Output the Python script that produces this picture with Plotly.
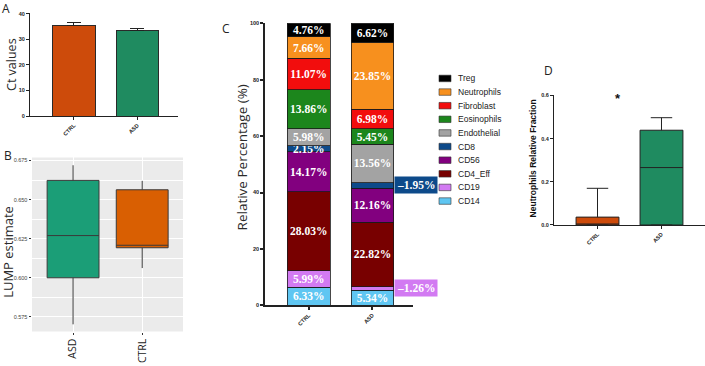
import plotly.graph_objects as go

W, H = 705, 366

# ---------------- data ----------------
a_groups = ["CTRL", "ASD"]
a_ct = [35.5, 33.3]
a_err = [1.0, 1.0]

b_groups = ["ASD", "CTRL"]
b_low = [0.5702, 0.6062]
b_q1 = [0.6000, 0.6192]
b_med = [0.6270, 0.6208]
b_q3 = [0.6623, 0.6563]
b_high = [0.6720, 0.6620]

c_groups = ["CTRL", "ASD"]
cell_types = ["CD14", "CD19", "CD4_Eff", "CD56", "CD8", "Endothelial",
              "Eosinophils", "Fibroblast", "Neutrophils", "Treg"]
c_ctrl = [6.33, 5.99, 28.03, 14.17, 2.15, 5.98, 13.86, 11.07, 7.66, 4.76]
c_asd = [5.34, 1.26, 22.82, 12.16, 1.95, 13.56, 5.45, 6.98, 23.85, 6.62]
cell_colors = ["#5fc6f2", "#d27af2", "#780000", "#82007f", "#0d4a8a",
               "#a3a3a3", "#1c861c", "#f20d0d", "#f7901e", "#000000"]
callout_types = ["CD19", "CD8"]  # ASD labels drawn beside the bar

d_groups = ["CTRL", "ASD"]
d_low = [0.0, 0.0]
d_q1 = [0.0, 0.0]
d_med = [0.0, 0.266]
d_q3 = [0.0365, 0.439]
d_high = [0.170, 0.497]

orange_prism = "#cd4b0b"
green_prism = "#1f8b60"
green_gg = "#1b9e77"
orange_gg = "#d95f02"

SANS = "Liberation Sans, Arial, sans-serif"
OPEN = "Open Sans, sans-serif"
SERIF = "Liberation Serif, Times New Roman, serif"


def px_x(p):
    return p / W


def px_y(p):
    return 1 - p / H


fig = go.Figure()

# ---------------- Panel A ----------------
fig.add_trace(go.Bar(
    x=a_groups, y=a_ct, width=0.67,
    marker=dict(color=[orange_prism, green_prism], line=dict(color="#2a2a2a", width=1)),
    error_y=dict(type="data", array=a_err, arrayminus=[0, 0], symmetric=False,
                 color="#222", thickness=1, width=7),
    xaxis="x", yaxis="y", showlegend=False))

# ---------------- Panel B ----------------
for g, c, lo, q1, md, q3, hi in zip(b_groups, [green_gg, orange_gg], b_low, b_q1, b_med, b_q3, b_high):
    fig.add_trace(go.Box(
        x=[g], lowerfence=[lo], q1=[q1], median=[md], q3=[q3], upperfence=[hi],
        width=0.75, whiskerwidth=0, fillcolor=c,
        line=dict(color="#3a3a3a", width=1), boxpoints=False,
        xaxis="x2", yaxis="y2", showlegend=False))

# ---------------- Panel C ----------------
for i, (ct, col) in enumerate(zip(cell_types, cell_colors)):
    vals = [c_ctrl[i], c_asd[i]]
    txt = [f"{c_ctrl[i]:.2f}%", "" if ct in callout_types else f"{c_asd[i]:.2f}%"]
    fig.add_trace(go.Bar(
        x=c_groups, y=vals, width=0.67, name=ct, text=txt,
        textposition="inside", insidetextanchor="middle", textangle=0,
        insidetextfont=dict(family=SERIF, size=11.5, color="white", weight="bold"),
        marker=dict(color=col, line=dict(color="#1a1a1a", width=0.8)),
        xaxis="x3", yaxis="y3", showlegend=False))

annotations = []
# callouts for small ASD segments
for ct in callout_types:
    i = cell_types.index(ct)
    mid = sum(c_asd[:i]) + c_asd[i] / 2
    annotations.append(dict(
        x=1.34, y=mid, xref="x3", yref="y3", xanchor="left", yanchor="middle",
        text=f"‒{c_asd[i]:.2f}%", showarrow=False, bgcolor=cell_colors[i],
        borderpad=2, font=dict(family=SERIF, size=11.5, color="white", weight="bold")))

# manual legend (Treg on top)
leg_top, leg_step = 76.7, 13.85
shapes = []
for k, (ct, col) in enumerate(zip(reversed(cell_types), reversed(cell_colors))):
    yc = leg_top + k * leg_step
    shapes.append(dict(type="rect", xref="paper", yref="paper",
                       x0=px_x(439), x1=px_x(451), y0=px_y(yc + 3.3), y1=px_y(yc - 3.3),
                       fillcolor=col, line=dict(color="#333", width=0.6)))
    annotations.append(dict(x=px_x(456), y=px_y(yc), xref="paper", yref="paper",
                            xanchor="left", yanchor="middle", text=ct, showarrow=False,
                            font=dict(family=SANS, size=8.5, color="#222")))

# ---------------- Panel D ----------------
for g, c, lo, q1, md, q3, hi in zip(d_groups, [orange_prism, green_prism], d_low, d_q1, d_med, d_q3, d_high):
    fig.add_trace(go.Box(
        x=[g], lowerfence=[lo], q1=[q1], median=[md], q3=[q3], upperfence=[hi],
        width=0.67, whiskerwidth=0.5, fillcolor=c,
        line=dict(color="#222", width=1), boxpoints=False,
        xaxis="x4", yaxis="y4", showlegend=False))

annotations.append(dict(x=0.32, y=0.585, xref="x4", yref="y4", text="*", showarrow=False,
                        yanchor="middle",
                        font=dict(family=SANS, size=13, color="#111", weight="bold")))

# ---------------- B background ----------------
shapes.insert(0, dict(type="rect", xref="paper", yref="paper", layer="below",
                      x0=px_x(32), x1=px_x(183), y0=px_y(334), y1=px_y(157),
                      fillcolor="#ebebeb", line=dict(width=0)))

# ---------------- titles & panel letters ----------------
def title(text, x, y, size, family=OPEN, bold=False, color="#2b2b2b"):
    annotations.append(dict(x=px_x(x), y=px_y(y), xref="paper", yref="paper",
                            text=text, showarrow=False, textangle=-90,
                            xanchor="center", yanchor="middle",
                            font=dict(family=family, size=size, color=color,
                                      weight="bold" if bold else "normal")))


title("Ct values", 12, 63, 12.5)
title("LUMP estimate", 8, 253, 13)
title("Relative Percentage (%)", 242, 157, 13.5)
title("Neutrophils Relative Fraction", 533, 158, 8.5, family=SANS, bold=True, color="#111")

for letter, x, y in [("A", 6, 6), ("B", 8, 155), ("C", 226, 26), ("D", 548, 69)]:
    annotations.append(dict(x=px_x(x), y=px_y(y), xref="paper", yref="paper",
                            text=letter, showarrow=False, xanchor="center", yanchor="middle",
                            font=dict(family=OPEN, size=12, color="#222")))

# ---------------- axes ----------------
def prism_axis(**kw):
    d = dict(showline=True, linecolor="#222", linewidth=1, ticks="outside", ticklen=3,
             tickwidth=1, tickcolor="#222", showgrid=False, zeroline=False,
             tickfont=dict(family=SANS, size=5.5, color="#222", weight="bold"))
    d.update(kw)
    return d


tick_small = dict(family=SANS, size=5.5, color="#222", weight="bold")

layout_axes = dict(
    xaxis=prism_axis(domain=[px_x(30), px_x(178)], anchor="y", type="category",
                     categoryorder="array", categoryarray=a_groups,
                     range=[-0.69, 1.64], tickangle=-45, tickfont=tick_small),
    yaxis=prism_axis(domain=[px_y(115), px_y(10)], anchor="x", range=[0, 40.3],
                     tickvals=[0, 10, 20, 30, 40]),
    xaxis2=dict(domain=[px_x(32), px_x(183)], anchor="y2", type="category",
                categoryorder="array", categoryarray=b_groups, range=[-0.594, 1.59],
                showline=False, ticks="outside", ticklen=2, tickcolor="#333",
                showgrid=True, gridcolor="white", gridwidth=1.1, zeroline=False,
                tickangle=-90, tickfont=dict(family=OPEN, size=10.5, color="#1a1a1a")),
    yaxis2=dict(domain=[px_y(334), px_y(157)], anchor="x2", range=[0.5656, 0.677],
                tickvals=[0.575, 0.600, 0.625, 0.650, 0.675],
                ticktext=["0.575", "0.600", "0.625", "0.650", "0.675"],
                showline=False, ticks="outside", ticklen=2.5, tickcolor="#333",
                showgrid=True, gridcolor="white", gridwidth=1.1, zeroline=False,
                minor=dict(tick0=0.5625, dtick=0.025, showgrid=True, gridcolor="white",
                           gridwidth=0.5, ticks=""),
                tickfont=dict(family=SANS, size=5.5, color="#444")),
    xaxis3=prism_axis(domain=[px_x(265), px_x(413)], anchor="y3", type="category",
                      categoryorder="array", categoryarray=c_groups, range=[-0.685, 1.635],
                      linewidth=1.5, tickwidth=1.5, tickangle=-45, tickfont=tick_small),
    yaxis3=prism_axis(domain=[px_y(307.3), px_y(20.7)], anchor="x3", range=[0, 100],
                      linewidth=1.5, tickwidth=1.5, tickvals=[0, 20, 40, 60, 80, 100]),
    xaxis4=prism_axis(domain=[px_x(554), 1.0], anchor="y4", type="category",
                      categoryorder="array", categoryarray=d_groups, range=[-0.68, 1.68],
                      tickangle=-45, tickfont=tick_small),
    yaxis4=prism_axis(domain=[px_y(225.7), px_y(94)], anchor="x4", range=[0, 0.6],
                      tickvals=[0, 0.2, 0.4, 0.6], ticktext=["0.0", "0.2", "0.4", "0.6"]),
)

fig.update_layout(
    width=W, height=H, margin=dict(l=0, r=0, t=0, b=0),
    paper_bgcolor="white", plot_bgcolor="rgba(0,0,0,0)",
    barmode="stack", boxmode="overlay",
    uniformtext=dict(minsize=11.5, mode="show"),
    shapes=shapes, annotations=annotations, showlegend=False,
    **layout_axes)

fig.write_html("out.html", config={"displayModeBar": False},
               post_script="document.body.style.margin='0';document.body.style.overflow='hidden';")
